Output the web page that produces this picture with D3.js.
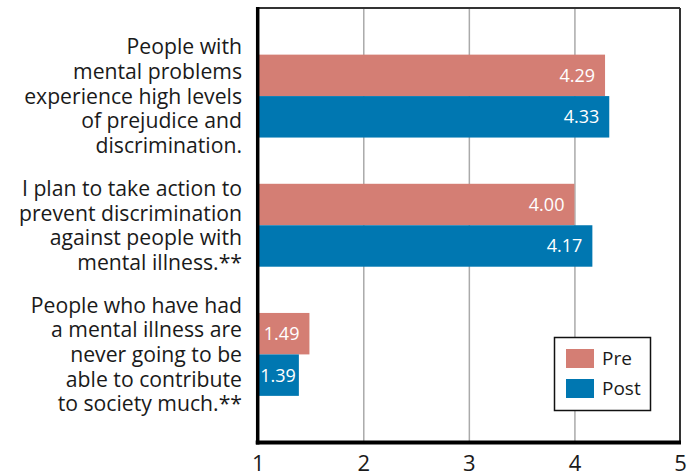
<!DOCTYPE html>
<html>
<head>
<meta charset="utf-8">
<script src="https://cdn.jsdelivr.net/npm/d3@7"></script>
<style>
  html, body { margin: 0; padding: 0; background: #fff; }
  svg { display: block; font-family: "Open Sans", "Noto Sans", sans-serif; }
</style>
</head>
<body>
<svg id="chart" width="697" height="472"></svg>
<script>
const categories = [
  ["People with", "mental problems", "experience high levels", "of prejudice and", "discrimination."],
  ["I plan to take action to", "prevent discrimination", "against people with", "mental illness.**"],
  ["People who have had", "a mental illness are", "never going to be", "able to contribute", "to society much.**"]
];
const preValues = [4.29, 4.00, 1.49];
const postValues = [4.33, 4.17, 1.39];
const seriesNames = ["Pre", "Post"];
const seriesColors = ["#D47E74", "#0077B1"];
const tickValues = [1, 2, 3, 4, 5];

(function () {
const svg = d3.select("#chart");
const pLeft = 257.7, pRight = 680, pTop = 8, pBottom = 442.5;

const x = d3.scaleLinear().domain([1, 5]).range([pLeft, pRight]);
const catIdx = categories.map((d, i) => i);
const y0 = d3.scaleBand().domain(catIdx).range([pTop, pBottom])
  .paddingInner(0.358).paddingOuter(0.361);
const y1 = d3.scaleBand().domain(seriesNames).range([0, y0.bandwidth()]);

const data = catIdx.map(i => ({ i, values: [
  { s: "Pre", v: preValues[i] },
  { s: "Post", v: postValues[i] }
]}));
const color = d3.scaleOrdinal().domain(seriesNames).range(seriesColors);

// gridlines
svg.append("g")
  .attr("transform", `translate(0,${pBottom})`)
  .call(d3.axisBottom(x).tickValues([2, 3, 4]).tickSize(-(pBottom - pTop)).tickFormat(""))
  .call(g => g.select(".domain").remove())
  .call(g => g.selectAll(".tick line").attr("stroke", "#aaaaaa").attr("stroke-width", 1.5));

// top and right frame
svg.append("line").attr("x1", pLeft).attr("x2", pRight).attr("y1", pTop).attr("y2", pTop)
  .attr("stroke", "#333").attr("stroke-width", 2);
svg.append("line").attr("x1", pRight).attr("x2", pRight).attr("y1", pTop).attr("y2", pBottom)
  .attr("stroke", "#333").attr("stroke-width", 2);

// bars
const groups = svg.append("g").selectAll("g").data(data).join("g")
  .attr("transform", d => `translate(0,${y0(d.i)})`);
groups.selectAll("rect").data(d => d.values).join("rect")
  .attr("x", x(1))
  .attr("y", d => y1(d.s))
  .attr("width", d => x(d.v) - x(1))
  .attr("height", y1.bandwidth())
  .attr("fill", d => color(d.s));

groups.selectAll("text.val").data(d => d.values).join("text")
  .attr("class", "val")
  .attr("y", d => y1(d.s) + y1.bandwidth() / 2)
  .attr("dy", "0.36em")
  .attr("text-anchor", "end")
  .attr("fill", "#fff")
  .attr("font-size", 18)
  .text(d => d3.format(".2f")(d.v))
  .attr("x", function(d) {
    const w = this.getComputedTextLength();
    return Math.max(x(d.v) - 10, x(1) + 2.5 + w);
  });

// category labels
const lineH = 24.7;
svg.append("g").selectAll("text").data(data).join("text")
  .attr("text-anchor", "end")
  .attr("font-size", 21.2)
  .attr("fill", "#1a1a1a")
  .each(function(d) {
    const lines = categories[d.i];
    const cy = y0(d.i) + y0.bandwidth() / 2;
    const startY = cy - (lines.length - 1) * lineH / 2;
    d3.select(this).selectAll("tspan").data(lines).join("tspan")
      .attr("x", 242)
      .attr("y", (l, k) => startY + k * lineH)
      .attr("dy", "0.36em")
      .text(l => l);
  });

// x axis
svg.append("g")
  .attr("transform", `translate(0,${pBottom})`)
  .call(d3.axisBottom(x).tickValues(tickValues).tickSize(0).tickPadding(13).tickFormat(d3.format("d")))
  .call(g => g.select(".domain").attr("stroke", "#000").attr("stroke-width", 4)
    .attr("d", `M${pLeft - 2},0H${pRight + 1}`))
  .call(g => g.selectAll(".tick text").attr("font-size", 22).attr("fill", "#1a1a1a")
    .attr("font-family", "'Open Sans', 'Noto Sans', sans-serif"));

// y axis line
svg.append("line").attr("x1", pLeft).attr("x2", pLeft).attr("y1", pTop - 1).attr("y2", pBottom + 2)
  .attr("stroke", "#000").attr("stroke-width", 3.5);

// legend
const lg = svg.append("g").attr("transform", "translate(554.5,337.5)");
lg.append("rect").attr("width", 96).attr("height", 73)
  .attr("fill", "#fff").attr("stroke", "#111").attr("stroke-width", 1.5);
const items = lg.selectAll("g.item").data(seriesNames).join("g")
  .attr("transform", (d, i) => `translate(11.5,${11.5 + i * 30})`);
items.append("rect").attr("width", 28).attr("height", 19).attr("fill", d => color(d));
items.append("text").attr("x", 36).attr("y", 9.5).attr("dy", "0.36em")
  .attr("font-size", 19).attr("fill", "#1a1a1a").text(d => d);
})();
</script>
</body>
</html>
